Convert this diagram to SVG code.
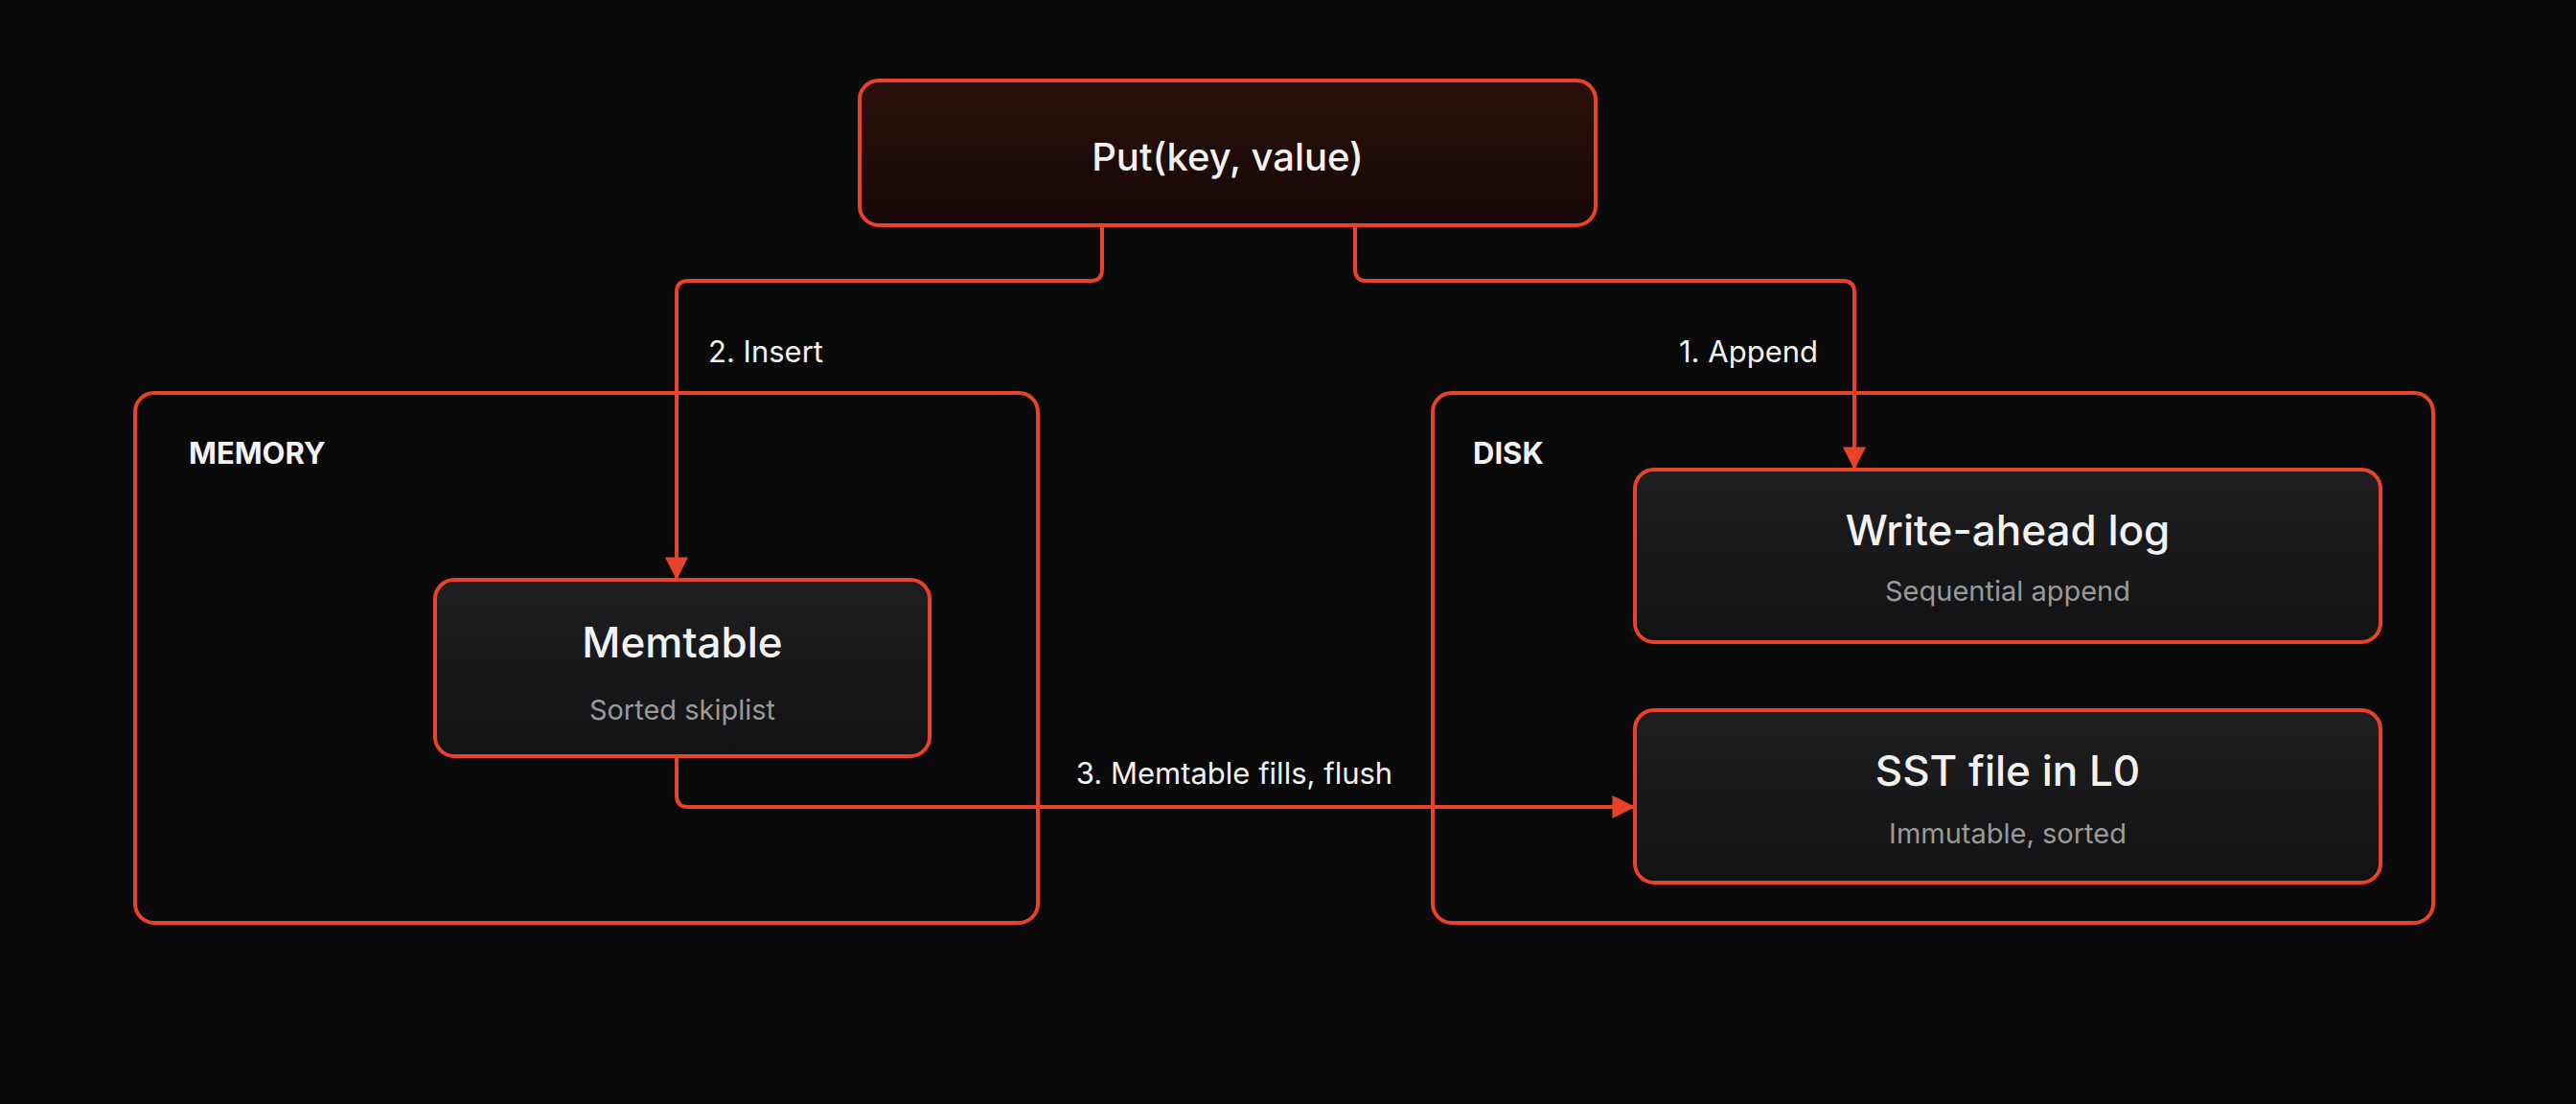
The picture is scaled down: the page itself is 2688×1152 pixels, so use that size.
<svg xmlns="http://www.w3.org/2000/svg" width="2688" height="1152" viewBox="0 0 2688 1152">
<defs>
<linearGradient id="g" x1="0" y1="0" x2="0" y2="1"><stop offset="0" stop-color="#1f1f22"/><stop offset="1" stop-color="#121214"/></linearGradient>
<linearGradient id="gr" x1="0" y1="0" x2="0" y2="1"><stop offset="0" stop-color="#2a100b"/><stop offset="1" stop-color="#160807"/></linearGradient>
<marker id="a" viewBox="0 0 10 10" refX="9" refY="5" markerWidth="6" markerHeight="6" orient="auto" markerUnits="strokeWidth"><path d="M0,0 L10,5 L0,10 z" fill="#e8432a"/></marker>
<style>
.b{stroke:#e8432a;stroke-width:4;}
.t{font-family:Inter,"Noto Sans",sans-serif;fill:#f2f2f2;text-anchor:middle;}
.s{font-family:Inter,"Noto Sans",sans-serif;fill:#9a9a9a;text-anchor:middle;font-size:29px;}
.l{font-family:Inter,"Noto Sans",sans-serif;fill:#f2f2f2;font-size:31px;}
.c{fill:none;stroke:#e8432a;stroke-width:4;}
</style>
</defs>
<rect width="2688" height="1152" fill="#0a0a0a"/>
<g id="memory"><rect class="b" x="141" y="410" width="942" height="553" rx="20" fill="none"/><text x="197" y="484" class="l" font-weight="700" font-size="38">MEMORY</text></g>
<g id="disk"><rect class="b" x="1495" y="410" width="1044" height="553" rx="20" fill="none"/><text x="1537" y="484" class="l" font-weight="700" font-size="38">DISK</text></g>
<g id="put"><rect class="b" x="897" y="84" width="768" height="151" rx="20" fill="url(#gr)"/><text x="1281" y="178" class="t" font-size="40" font-weight="500">Put(key, value)</text></g>
<g id="memtable"><rect class="b" x="454" y="605" width="516" height="184" rx="20" fill="url(#g)"/><text x="712" y="686" class="t" font-size="44" font-weight="500">Memtable</text><text x="712" y="751" class="s">Sorted skiplist</text></g>
<g id="wal"><rect class="b" x="1706" y="490" width="778" height="180" rx="20" fill="url(#g)"/><text x="2095" y="569" class="t" font-size="44" font-weight="500">Write-ahead log</text><text x="2095" y="627" class="s">Sequential append</text></g>
<g id="sst"><rect class="b" x="1706" y="741" width="778" height="180" rx="20" fill="url(#g)"/><text x="2095" y="820" class="t" font-size="44" font-weight="500">SST file in L0</text><text x="2095" y="880" class="s">Immutable, sorted</text></g>
<g id="connectors">
<path class="c" d="M1150,235 V281 Q1150,293 1138,293 H718 Q706,293 706,305 V603" marker-end="url(#a)"/>
<path class="c" d="M1414,235 V281 Q1414,293 1426,293 H1923 Q1935,293 1935,305 V488" marker-end="url(#a)"/>
<path class="c" d="M706,789 V830 Q706,842 718,842 H1704" marker-end="url(#a)"/>
<text x="739" y="378" class="l">2. Insert</text>
<text x="1897" y="378" class="l" text-anchor="end">1. Append</text>
<text x="1288" y="818" class="l" text-anchor="middle">3. Memtable fills, flush</text>
</g>
</svg>
